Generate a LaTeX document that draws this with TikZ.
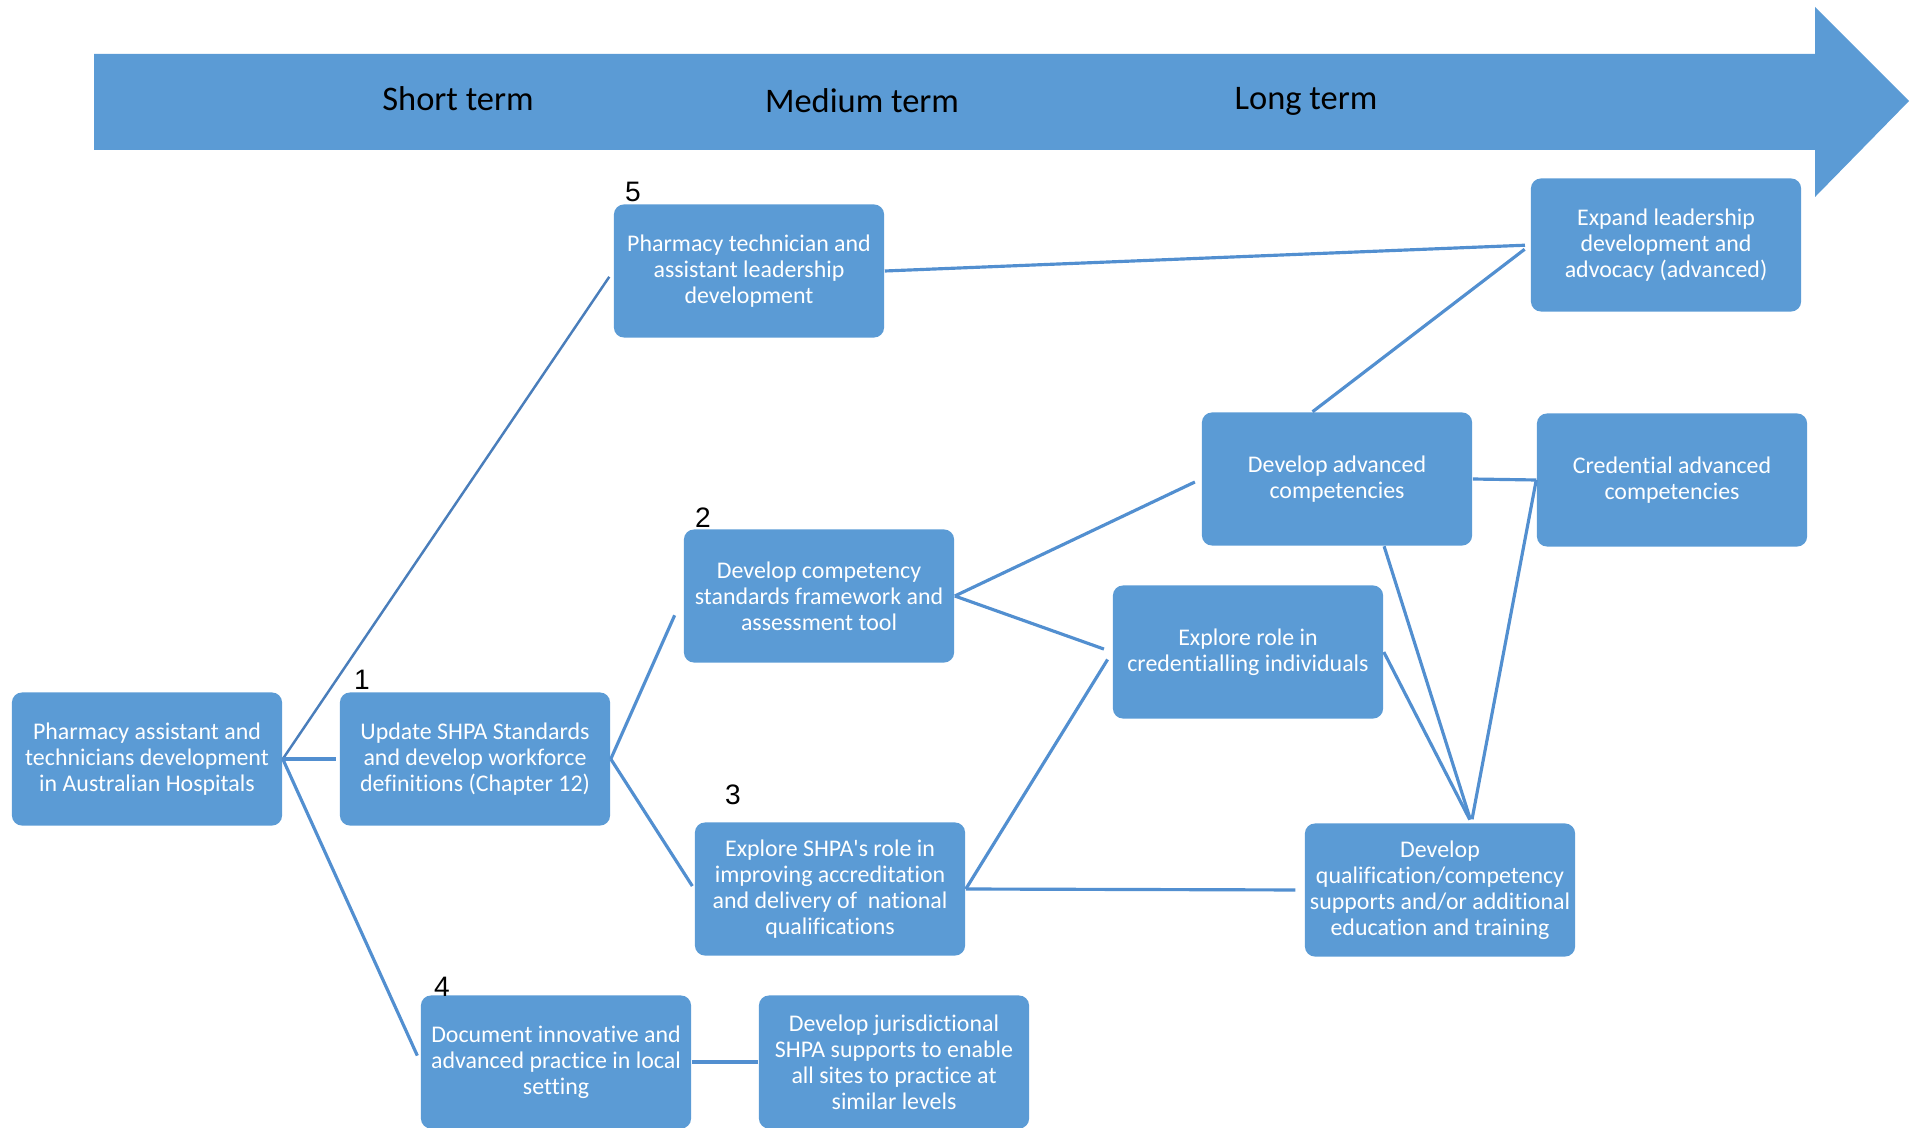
\documentclass[tikz,border=0pt]{standalone}
\usepackage{fontspec}
\setmainfont[Ligatures=NoCommon]{Carlito}
\newfontfamily\numfont{Liberation Sans}
\definecolor{boxblue}{RGB}{91,155,213}
\definecolor{linkblue}{RGB}{82,143,208}
\definecolor{darkblue}{RGB}{74,126,187}
\tikzset{
	box/.style={fill=boxblue, rounded corners=0.1cm, minimum width=2.7cm, minimum height=1.33cm,
		inner sep=1pt, align=center, text=white, font=\fontsize{6.8}{7.4}\selectfont},
	link/.style={draw=linkblue, line width=0.9pt},
	darklink/.style={draw=darkblue, line width=0.7pt},
	num/.style={inner sep=0pt, font=\numfont\fontsize{8}{9}\selectfont},
	term/.style={inner sep=0pt, font=\fontsize{9.8}{11}\selectfont}
}
\begin{document}
\begin{tikzpicture}[x=0.01cm, y=-0.01cm]
		\useasboundingbox (0, 0) rectangle (1910, 1128);

		% freccia del tempo
		\fill[boxblue] (94, 54) -- (1815, 54) -- (1815, 7) -- (1909, 101) -- (1815, 197) -- (1815, 150) -- (94, 150) -- cycle;
		\node[term] (short) at (458, 99) {Short term};
		\node[term] (medium) at (862, 101) {Medium term};
		\node[term] (long) at (1306, 101.5) {Long term};

		% riquadri
		\node[box] (root) at (147, 759) {Pharmacy assistant and\\technicians development\\in Australian Hospitals};
		\node[box] (upd) at (475, 759) {Update SHPA Standards\\and develop workforce\\definitions (Chapter 12)};
		\node[box] (lead) at (749, 271) {Pharmacy technician and\\assistant leadership\\development};
		\node[box] (comp) at (819, 596) {Develop competency\\standards framework and\\assessment tool};
		\node[box] (accr) at (830, 889) {Explore SHPA\textquotesingle s role in\\improving accreditation\\and delivery of\ \ national\\qualifications};
		\node[box] (doc) at (556, 1062) {Document innovative and\\advanced practice in local\\setting};
		\node[box] (juris) at (894, 1062) {Develop jurisdictional\\SHPA supports to enable\\all sites to practice at\\similar levels};
		\node[box] (expand) at (1666, 245) {Expand leadership\\development and\\advocacy (advanced)};
		\node[box] (advc) at (1337, 479) {Develop advanced\\competencies};
		\node[box] (cred) at (1672, 480) {Credential advanced\\competencies};
		\node[box] (role) at (1248, 652) {Explore role in\\credentialling individuals};
		\node[box] (devq) at (1440, 890) {Develop\\qualification/competency\\supports and/or additional\\education and training};

		% numeri
		\node[num] (n1) at (362, 680) {1};
		\node[num] (n2) at (703, 518) {2};
		\node[num] (n3) at (733, 795) {3};
		\node[num] (n4) at (442, 987) {4};
		\node[num] (n5) at (633, 192) {5};

		% collegamenti
		\draw[darklink, shorten >=2pt] (root.east) -- (lead.west);
		\draw[link, shorten >=1pt] (root.east) -- (upd.west);
		\draw[link, shorten >=2pt] (root.east) -- (doc.west);
		\draw[link, shorten >=6pt] (upd.east) -- (comp.west);
		\draw[link, shorten >=1pt] (upd.east) -- (accr.west);
		\draw[link, shorten >=1.5pt] (lead.east) -- (expand.west);
		\draw[link, shorten <=2pt] (expand.west) -- (advc.110);
		\draw[link, shorten >=2pt] (comp.east) -- (advc.west);
		\draw[link, shorten >=2.5pt] (comp.east) -- (role.west);
		\draw[link, shorten >=2.5pt] (accr.east) -- (role.west);
		\draw[link, shorten >=2.5pt] (accr.east) -- (devq.west);
		\draw[link] (advc.east) -- (cred.west);
		\draw[link, shorten >=1pt] (cred.west) -- (devq.65);
		\draw[link, shorten >=1pt] (advc.-55) -- (devq.65);
		\draw[link, shorten >=1pt] (role.east) -- (devq.65);
		\draw[link] (doc.east) -- (juris.west);
	\end{tikzpicture}
\end{document}
